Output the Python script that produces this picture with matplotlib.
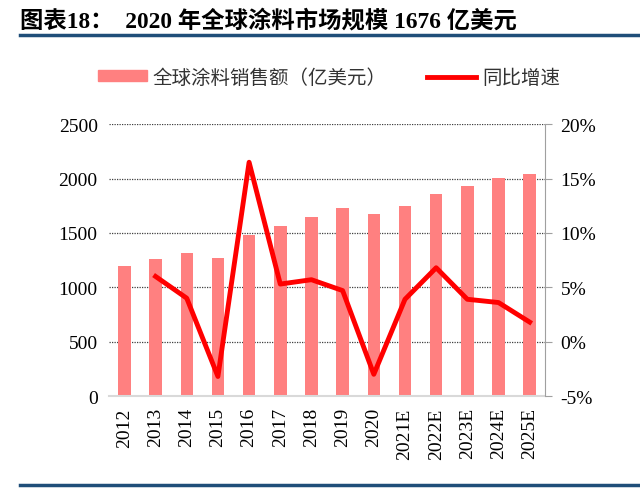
import numpy as np
import matplotlib.pyplot as plt
from matplotlib.lines import Line2D
from matplotlib.patches import Patch

years = ['2012', '2013', '2014', '2015', '2016', '2017', '2018', '2019', '2020',
         '2021E', '2022E', '2023E', '2024E', '2025E']
sales = [1195, 1259, 1314, 1268, 1480, 1562, 1645, 1728, 1676,
         1746, 1857, 1930, 2004, 2040]
growth = [None, 6.0, 4.0, -3.2, 16.5, 5.3, 5.7, 4.7, -3.0,
          3.9, 6.8, 3.9, 3.6, 1.8]

serif = ['Liberation Serif', 'Noto Sans CJK SC']
cjk = ['Noto Sans CJK SC', 'DejaVu Sans']

fig = plt.figure(figsize=(6.4, 4.89), dpi=100)
ax = fig.add_axes([0.170, 0.188, 0.682, 0.556])
ind = np.arange(len(years))
ax.bar(ind, sales, 0.4, color='#FF8080', zorder=2)
ax.set_ylim(0, 2500)
ax.set_yticks(range(0, 2501, 500))
ax.set_xlim(-0.5, len(years) - 0.5)
ax.set_xticks(ind)
ax.set_xticklabels(years, rotation=90, family=serif, fontsize=14)
for t in ax.get_yticklabels():
    t.set_family(serif)
    t.set_fontsize(14)
ax.tick_params(axis='both', length=0, pad=8)
ax.yaxis.grid(True, linestyle=(0, (1, 1)), color='#404040', linewidth=0.9, zorder=0)
for s in ['left', 'top', 'right']:
    ax.spines[s].set_visible(False)
ax.spines['bottom'].set_color('#D9D9D9')
ax.spines['bottom'].set_linewidth(1.5)

ax2 = ax.twinx()
g = np.array([np.nan if v is None else v for v in growth], dtype=float)
ax2.plot(ind, g, color='#FF0000', linewidth=3.5, zorder=3)
ax2.set_ylim(-5, 20)
ax2.set_yticks(range(-5, 21, 5))
ax2.set_yticklabels(['%d%%' % v for v in range(-5, 21, 5)], family=serif, fontsize=14)
for s in ['left', 'top', 'bottom']:
    ax2.spines[s].set_visible(False)
ax2.spines['right'].set_color('#A0A0A0')
ax2.tick_params(axis='y', length=5, color='#A0A0A0', pad=6)

handles = [Patch(color='#FF8080'), Line2D([], [], color='#FF0000', linewidth=3.5)]
fig.legend(handles, ['全球涂料销售额（亿美元）', '同比增速'], loc='center',
           bbox_to_anchor=(0.514, 0.840), ncol=2, frameon=False,
           prop={'family': cjk, 'size': 14}, handlelength=2.5, handleheight=0.5,
           columnspacing=2.1, handletextpad=0.3, labelcolor='#333333')

fig.text(0.031, 0.957, '图表18：  2020 年全球涂料市场规模 1676 亿美元',
         family=serif, fontsize=16.8, fontweight='bold', va='center', ha='left')
fig.add_artist(Line2D([0.031, 1.0], [0.926, 0.926], color='#1F4E79', linewidth=2.5))
fig.add_artist(Line2D([0.031, 1.0], [0.006, 0.006], color='#1F4E79', linewidth=2.5))

fig.savefig('out.png', dpi=100)
